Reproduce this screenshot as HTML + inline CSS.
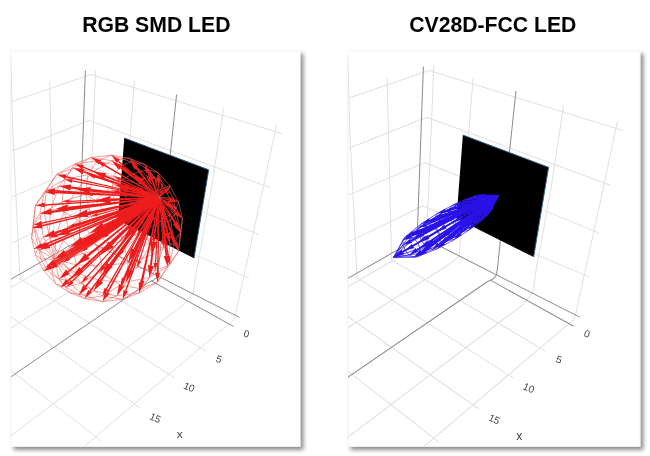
<!DOCTYPE html>
<html><head><meta charset="utf-8"><title>LED radiation patterns</title>
<style>
html,body{margin:0;padding:0;background:#fff;}
body{width:650px;height:456px;overflow:hidden;font-family:"Liberation Sans",Arial,sans-serif;}
svg{display:block;}
</style></head><body>
<svg width="650" height="456" viewBox="0 0 650 456" font-family="Liberation Sans, Arial, sans-serif">
<defs>
<filter id="sh" x="-10%" y="-10%" width="125%" height="125%"><feGaussianBlur in="SourceAlpha" stdDeviation="2.3"/><feOffset dx="2.6" dy="2.6"/><feComponentTransfer><feFuncA type="linear" slope="0.46"/></feComponentTransfer><feMerge><feMergeNode/><feMergeNode in="SourceGraphic"/></feMerge></filter>
<clipPath id="cl"><rect x="11" y="51" width="289" height="395"/></clipPath>
<clipPath id="cr"><rect x="348" y="51" width="292" height="395"/></clipPath>
<g id="grid">
<polyline points="91,74.4 12,101.6" stroke="#e0e0e0" stroke-width="1" fill="none"/>
<polyline points="89,120.4 12,151" stroke="#e0e0e0" stroke-width="1" fill="none"/>
<polyline points="87,165 12,197" stroke="#e0e0e0" stroke-width="1" fill="none"/>
<polyline points="85,208 12,243" stroke="#e0e0e0" stroke-width="1" fill="none"/>
<polyline points="10,288 41,270 88,243" stroke="#e0e0e0" stroke-width="1" fill="none"/>
<polyline points="49.6,82 51,136 54,258 53.9,260.8 205.7,350.9" stroke="#e0e0e0" stroke-width="1" fill="none"/>
<polyline points="10.6,55 13,136 18.6,250 20,280 20.4,278.6 174.4,377.8" stroke="#e0e0e0" stroke-width="1" fill="none"/>
<polyline points="-0.1,309.1 139.7,407.7" stroke="#e0e0e0" stroke-width="1" fill="none"/>
<polyline points="-38.6,332 101,440.9" stroke="#e0e0e0" stroke-width="1" fill="none"/>
<polyline points="91,74.4 282,133.6" stroke="#e0e0e0" stroke-width="1" fill="none"/>
<polyline points="89,120.4 269.6,187.4" stroke="#e0e0e0" stroke-width="1" fill="none"/>
<polyline points="87,165 258.4,234.4" stroke="#e0e0e0" stroke-width="1" fill="none"/>
<polyline points="85,208 249,278" stroke="#e0e0e0" stroke-width="1" fill="none"/>
<polyline points="95.6,70 93,136 88.5,240" stroke="#e0e0e0" stroke-width="1" fill="none"/>
<polyline points="134.4,81.4 130,138 120.7,257.5 108,267.3 -220.9,472.8" stroke="#e0e0e0" stroke-width="1" fill="none"/>
<polyline points="223.6,108.6 211,191 196.4,271 193.3,293.5 182.7,305.5 -155.2,561.7" stroke="#e0e0e0" stroke-width="1" fill="none"/>
<polyline points="276.6,124.6 262.4,191 245,271 235,316 233.8,320 223.5,328.2 -115.4,615.6" stroke="#e0e0e0" stroke-width="1" fill="none"/>
<polyline points="85.4,70.4 83,136 79.3,238" stroke="#8c8c8c" stroke-width="1" fill="none"/>
<polyline points="8,280.9 83,238 239.4,317.4" stroke="#8c8c8c" stroke-width="1" fill="none"/>
<polyline points="176.6,94.6 170.6,151 158.2,271 157,276.5 154.5,279.5 147.6,283.1 -190.1,514.5" stroke="#8c8c8c" stroke-width="1" fill="none"/>
<polyline points="151,280.7 233.4,326.4" stroke="#8c8c8c" stroke-width="1" fill="none"/>
</g>
<g id="quad"><polygon points="124.3,138 208.7,169.8 194,258.2 118,220" fill="#000"/><polyline points="124.3,138 208.7,169.8 194,258.2" fill="none" stroke="#2c5f8f" stroke-width="0.9"/></g>
</defs>
<rect width="650" height="456" fill="#fff"/>
<text x="156.3" y="31.6" font-size="21.2" font-weight="bold" text-anchor="middle" fill="#000">RGB SMD LED</text>
<text x="492.8" y="31.6" font-size="21.2" font-weight="bold" text-anchor="middle" fill="#000">CV28D-FCC LED</text>
<rect x="11" y="51" width="289" height="395.5" fill="#fff" stroke="#f1f1f1" stroke-width="0.8" filter="url(#sh)"/>
<rect x="348" y="51" width="292" height="395.5" fill="#fff" stroke="#f1f1f1" stroke-width="0.8" filter="url(#sh)"/>
<g clip-path="url(#cl)">
<use href="#grid"/><use href="#quad"/>
<path d="M76.4 264.9 L74.4 256 L69.8 247.4 L63.4 240.3 L56.1 235.8 L49.1 234.6 L43.3 236.9 L39.8 242.3 L38.9 250 L41 258.8 L45.5 267.4 L51.9 274.5 L59.2 279 L66.3 280.2 L72 278 L75.6 272.6Z M102 266.1 L98.2 249.5 L89.6 233.3 L77.6 219.9 L63.9 211.5 L50.6 209.2 L39.9 213.5 L33.2 223.6 L31.6 238.1 L35.4 254.7 L43.9 270.9 L56 284.2 L69.7 292.7 L82.9 294.9 L93.7 290.7 L100.4 280.5Z M128.2 262.7 L123.1 240.3 L111.5 218.5 L95.3 200.5 L76.9 189.2 L59 186.1 L44.5 191.9 L35.5 205.5 L33.3 225 L38.4 247.4 L50 269.2 L66.2 287.2 L84.6 298.5 L102.5 301.6 L117 295.8 L126 282.2Z M151.8 255.2 L146 229.8 L132.9 204.9 L114.4 184.5 L93.5 171.6 L73.2 168.1 L56.6 174.6 L46.4 190.2 L44 212.3 L49.8 237.8 L62.9 262.6 L81.3 283 L102.3 296 L122.6 299.4 L139.1 292.9 L149.4 277.4Z M170 244.5 L164.2 219 L151.1 194.2 L132.7 173.8 L111.7 160.8 L91.4 157.4 L74.9 163.9 L64.6 179.4 L62.2 201.6 L68 227 L81.1 251.9 L99.6 272.3 L120.5 285.2 L140.8 288.7 L157.4 282.2 L167.6 266.6Z M180.7 231.8 L175.6 209.4 L164 187.6 L147.8 169.6 L129.4 158.3 L111.5 155.2 L97 161 L88 174.6 L85.8 194.1 L90.9 216.5 L102.5 238.3 L118.7 256.3 L137.1 267.6 L155 270.7 L169.5 264.9 L178.5 251.3Z M182.4 218.7 L178.6 202.1 L170.1 185.9 L158 172.6 L144.3 164.1 L131.1 161.9 L120.3 166.1 L113.6 176.3 L112 190.7 L115.8 207.3 L124.4 223.5 L136.4 236.9 L150.1 245.3 L163.4 247.6 L174.1 243.3 L180.8 233.2Z M175.1 206.8 L173 198 L168.5 189.4 L162.1 182.3 L154.8 177.8 L147.7 176.6 L142 178.8 L138.4 184.2 L137.6 191.9 L139.6 200.8 L144.2 209.4 L150.6 216.5 L157.9 221 L164.9 222.2 L170.7 219.9 L174.2 214.5Z M159.5 197.5 L159.5 197.5 L159.5 197.5 L159.5 197.5 L159.5 197.5 L159.5 197.5 L159.5 197.5 L159.5 197.5 L159.5 197.5 L159.5 197.5 L159.5 197.5 L159.5 197.5 L159.5 197.5 L159.5 197.5 L159.5 197.5 L159.5 197.5Z M54.5 259.3 L76.4 264.9 L102 266.1 L128.2 262.7 L151.8 255.2 L170 244.5 L180.7 231.8 L182.4 218.7 L175.1 206.8 L159.5 197.5 M54.5 259.3 L74.4 256 L98.2 249.5 L123.1 240.3 L146 229.8 L164.2 219 L175.6 209.4 L178.6 202.1 L173 198 L159.5 197.5 M54.5 259.3 L69.8 247.4 L89.6 233.3 L111.5 218.5 L132.9 204.9 L151.1 194.2 L164 187.6 L170.1 185.9 L168.5 189.4 L159.5 197.5 M54.5 259.3 L63.4 240.3 L77.6 219.9 L95.3 200.5 L114.4 184.5 L132.7 173.8 L147.8 169.6 L158 172.6 L162.1 182.3 L159.5 197.5 M54.5 259.3 L56.1 235.8 L63.9 211.5 L76.9 189.2 L93.5 171.6 L111.7 160.8 L129.4 158.3 L144.3 164.1 L154.8 177.8 L159.5 197.5 M54.5 259.3 L49.1 234.6 L50.6 209.2 L59 186.1 L73.2 168.1 L91.4 157.4 L111.5 155.2 L131.1 161.9 L147.7 176.6 L159.5 197.5 M54.5 259.3 L43.3 236.9 L39.9 213.5 L44.5 191.9 L56.6 174.6 L74.9 163.9 L97 161 L120.3 166.1 L142 178.8 L159.5 197.5 M54.5 259.3 L39.8 242.3 L33.2 223.6 L35.5 205.5 L46.4 190.2 L64.6 179.4 L88 174.6 L113.6 176.3 L138.4 184.2 L159.5 197.5 M54.5 259.3 L38.9 250 L31.6 238.1 L33.3 225 L44 212.3 L62.2 201.6 L85.8 194.1 L112 190.7 L137.6 191.9 L159.5 197.5 M54.5 259.3 L41 258.8 L35.4 254.7 L38.4 247.4 L49.8 237.8 L68 227 L90.9 216.5 L115.8 207.3 L139.6 200.8 L159.5 197.5 M54.5 259.3 L45.5 267.4 L43.9 270.9 L50 269.2 L62.9 262.6 L81.1 251.9 L102.5 238.3 L124.4 223.5 L144.2 209.4 L159.5 197.5 M54.5 259.3 L51.9 274.5 L56 284.2 L66.2 287.2 L81.3 283 L99.6 272.3 L118.7 256.3 L136.4 236.9 L150.6 216.5 L159.5 197.5 M54.5 259.3 L59.2 279 L69.7 292.7 L84.6 298.5 L102.3 296 L120.5 285.2 L137.1 267.6 L150.1 245.3 L157.9 221 L159.5 197.5 M54.5 259.3 L66.3 280.2 L82.9 294.9 L102.5 301.6 L122.6 299.4 L140.8 288.7 L155 270.7 L163.4 247.6 L164.9 222.2 L159.5 197.5 M54.5 259.3 L72 278 L93.7 290.7 L117 295.8 L139.1 292.9 L157.4 282.2 L169.5 264.9 L174.1 243.3 L170.7 219.9 L159.5 197.5 M54.5 259.3 L75.6 272.6 L100.4 280.5 L126 282.2 L149.4 277.4 L167.6 266.6 L178.5 251.3 L180.8 233.2 L174.2 214.5 L159.5 197.5" stroke="#f0605c" stroke-width="0.6" fill="none"/>
<path d="M154.74 200.49L107.63 233.94L108.27 234.83L155.13 201.04ZM153.3 201.68L129.49 219.07L130.14 219.96L153.69 202.22ZM153.92 198.69L97.32 214.14L97.61 215.2L154.1 199.34ZM151.96 198.86L122.32 205.31L122.56 206.39L152.1 199.51ZM155.27 204.06L139.42 230.65L140.39 231.21L155.84 204.4ZM155.96 202.01L122.18 250.27L123.11 250.92L156.51 202.39ZM155.51 199.85L86.51 247.44L87.15 248.37L155.9 200.41ZM151.43 196.01L119.02 191.17L118.86 192.3L151.34 196.68ZM154.97 198.61L74.47 224.35L74.83 225.44L155.18 199.25ZM153.62 196.89L92.88 193.86L92.83 195.01L153.59 197.57ZM148.17 203.53L145.77 204.59L146.34 205.59L148.49 204.09ZM145.53 196.79L142.7 196.46L142.66 197.61L145.51 197.44ZM152.64 209.35L151.09 211.66L152.11 212.22L153.22 209.66ZM156.33 200.91L103.59 266.35L104.51 267.08L156.86 201.33ZM157.56 205.61L150.92 238.16L152.07 238.39L158.23 205.74ZM145.2 190.44L142.38 188.83L141.88 189.9L144.92 191.04ZM158.09 213.04L157.61 216.18L158.79 216.26L158.75 213.08ZM154.78 197.36L69.46 200.71L69.51 201.9L154.8 198.04ZM157.39 203.01L138.8 260.51L139.93 260.87L158.04 203.21ZM151.79 193.56L120.49 178.81L119.99 179.89L151.51 194.18ZM156.02 199.44L68.7 257.95L69.38 258.95L156.4 200ZM155.64 198.55L56.56 234.63L56.98 235.78L155.88 199.19ZM153.88 195.35L95.28 176.32L94.91 177.48L153.67 195.99ZM147.28 185.7L144.94 183.15L144.11 184.05L146.82 186.19ZM163.38 213.87L163.97 217.24L165.16 216.94L164.04 213.7ZM159.82 206.09L162.15 240.04L163.39 239.95L160.5 206.04ZM157.3 201.61L123.08 278L124.22 278.5L157.93 201.88ZM156.58 200.18L86.05 276.95L86.97 277.8L157.09 200.64ZM153.01 191.87L126.78 170.51L125.98 171.51L152.58 192.41ZM155.52 197.67L51.64 210.72L51.8 211.98L155.61 198.34ZM151.39 183.51L149.93 180.55L148.84 181.22L150.79 183.87ZM167.45 211.7L168.87 214.7L169.97 214.05L168.05 211.35ZM154.97 196.29L72.47 180.29L72.23 181.55L154.84 196.96ZM158.8 203.33L154.84 262.75L156.13 262.83L159.48 203.38ZM156.73 184.33L156.39 181.6L155.1 181.91L156.03 184.49ZM161.68 205.44L171.03 235.75L172.3 235.35L162.33 205.23ZM169.5 207L171.37 209.1L172.26 208.11L169.98 206.47ZM156.39 199.13L56.46 264.16L57.19 265.28L156.77 199.7ZM154.67 194.28L104.37 164.51L103.7 165.67L154.32 194.87ZM157.26 200.68L105.86 288.52L107.02 289.2L157.85 201.03ZM156.14 198.51L45.8 243.62L46.31 244.86L156.4 199.15ZM154.91 191.19L136.83 167.99L135.76 168.85L154.37 191.63ZM162.22 188.06L163.01 186.2L161.69 185.87L161.52 187.88ZM169.18 200.71L171.08 201.6L171.46 200.28L169.38 200.01ZM158.26 201.85L141.86 280.32L143.2 280.59L158.93 201.98ZM156.78 199.64L71.81 280.82L72.77 281.81L157.25 200.14ZM166.65 193.98L168.22 193.49L167.56 192.28L166.3 193.34ZM155.67 196.91L54.89 190.03L54.8 191.42L155.62 197.59ZM156.06 197.9L41.61 222.49L41.91 223.86L156.21 198.57ZM159.96 202.95L167.55 256.42L168.95 256.21L160.64 202.84ZM162.85 203.78L175.73 226.04L176.96 225.3L163.45 203.42ZM155.53 195.56L83.27 166.48L82.74 167.81L155.28 196.19ZM157.22 191.65L148.7 171.99L147.37 172.6L156.59 191.94ZM157.23 199.99L89.43 290.84L90.62 291.72L157.78 200.4ZM155.89 193.86L118.79 160.65L117.81 161.76L155.43 194.38ZM157.92 200.86L125.01 290.61L126.41 291.11L158.57 201.09ZM163.18 201.38L175.08 212.96L176.11 211.84L163.66 200.87ZM156.7 198.87L51.39 265.26L52.21 266.54L157.07 199.45ZM156.17 197.37L44.72 204.16L44.82 205.68L156.21 198.06ZM159.6 193.22L159.34 181.96L157.81 182.05L158.89 193.26ZM156.52 198.35L41.99 244.78L42.57 246.21L156.78 198.99ZM159.05 201.59L156.84 272.67L158.39 272.7L159.74 201.61ZM156.07 196.39L66.09 175.95L65.76 177.47L155.92 197.06ZM162.69 198.63L169.07 200.62L169.44 199.09L162.85 197.94ZM160.7 201.92L174.58 242.43L176.06 241.9L161.35 201.69ZM161.57 195.76L165.39 192.21L164.22 191.14L161.04 195.28ZM157.03 199.29L67.11 280.54L68.18 281.71L157.49 199.8ZM156.38 195.26L100.36 161.72L99.53 163.12L156.03 195.86ZM157.68 200.11L106.58 292.44L108.01 293.22L158.28 200.44ZM157.36 194.15L136.11 165.71L134.81 166.7L156.81 194.57ZM156.53 197.86L41.7 224.89L42.09 226.5L156.69 198.53ZM158.47 200.68L140.48 282.57L142.14 282.92L159.14 200.82ZM156.45 197.01L54.93 191.52L54.84 193.22L156.42 197.69ZM160.9 200.43L174.37 223.23L175.84 222.33L161.49 200.06ZM157.41 199.49L84.82 286.14L86.16 287.25L157.93 199.93ZM159.55 200.89L165.49 256.02L167.24 255.82L160.24 200.81ZM156.97 198.65L54.27 261.04L55.2 262.54L157.33 199.23ZM158.89 195.14L152.82 179.3L151.18 179.99L158.24 195.41ZM156.67 196.17L83.78 170.79L83.21 172.48L156.45 196.82ZM156.88 198.27L48.77 244.73L49.49 246.39L157.15 198.9ZM160.58 198.73L166.15 203.58L167.24 202.11L160.99 198.17ZM157.4 195.45L121.2 166.98L120.08 168.44L156.97 196ZM158.05 199.99L120.67 285.08L122.37 285.81L158.68 200.26ZM160.18 196.85L162.37 193.45L160.69 192.68L159.54 196.56ZM156.74 197.52L51.01 211.06L51.25 212.9L156.84 198.2ZM157.22 198.91L67.45 271.14L68.62 272.58L157.65 199.45ZM156.86 196.85L70.93 186.49L70.72 188.42L156.78 197.54ZM158.81 200.18L149.93 265.37L151.86 265.62L159.5 200.26ZM159.67 199.85L166.42 232.86L168.35 232.43L160.35 199.7ZM157.73 199.41L99.91 280.16L101.53 281.31L158.29 199.81ZM156.99 197.99L54.56 232.05L55.2 233.93L157.21 198.64ZM158.43 196.09L142.71 181.3L141.36 182.83L157.97 196.61ZM157.38 196.29L105.53 175.21L104.78 177.12L157.12 196.94ZM157.46 198.91L80.61 268.65L82.01 270.17L157.93 199.41ZM157.23 198.44L64.89 251.98L65.94 253.77L157.57 199.03ZM158.29 199.63L129.83 269.73L131.8 270.51L158.93 199.88ZM159.39 198.62L160.49 206.96L162.57 206.51L160.07 198.47ZM157.09 197.42L67.78 206.72L68.01 208.84L157.17 198.11ZM159.22 197.02L156.29 195.08L155.51 197.09L158.97 197.66ZM157.33 196.93L90.5 189.42L90.28 191.63L157.26 197.62ZM158.89 199.42L152.5 241.55L154.7 241.84L159.58 199.51ZM157.25 197.97L68.55 230.04L69.33 232.13L157.49 198.61ZM157.91 199.08L108.91 264.15L110.74 265.51L158.46 199.48ZM157.57 198.62L86.6 255.12L88.04 256.91L158 199.16ZM158.06 196.72L128.33 187.31L127.69 189.53L157.87 197.39ZM157.48 198.23L81.97 239.3L83.12 241.38L157.82 198.83ZM158.35 199.09L133.44 248.95L135.6 249.98L158.98 199.39ZM158.72 198.47L150.61 215.61L152.84 216.55L159.36 198.73ZM157.47 197.59L87.38 212.1L87.9 214.47L157.62 198.27ZM158.5 197.42L147.03 199.71L147.69 202.07L158.69 198.09ZM157.77 197.24L110.43 198.58L110.54 201.05L157.8 197.93ZM157.91 198.56L110.31 243.35L112.07 245.18L158.39 199.05ZM158.26 198.42L132.38 227.37L134.36 229.05L158.79 198.87ZM157.76 198L103.21 224.84L104.4 227.15L158.07 198.62ZM158.08 197.74L125.76 210.83L126.82 213.24L158.36 198.38Z" fill="#ee1c1c"/>
<path d="M102.5 238.3L107 233L108.9 235.8ZM124.4 223.5L128.8 218.1L130.8 220.9ZM90.9 216.5L97 213L97.9 216.3ZM115.8 207.3L122.1 204.2L122.8 207.5ZM136.4 236.9L138.4 230L141.4 231.8ZM118.7 256.3L121.2 249.6L124.1 251.6ZM81.1 251.9L85.8 246.5L87.8 249.3ZM112 190.7L119.2 190L118.7 193.5ZM68 227L74.1 223.2L75.2 226.6ZM85.8 194.1L92.9 192.7L92.8 196.2ZM142.7 207L145.6 204.2L146.5 206ZM138.4 196.9L142.7 196L142.6 198.1ZM149.6 215.6L150.7 211.4L152.5 212.4ZM99.6 272.3L102.6 265.6L105.5 267.8ZM150.1 245.3L149.7 237.9L153.3 238.6ZM137.7 187.3L142.7 188.3L141.6 190.5ZM157.9 221L157 216.1L159.4 216.3ZM62.2 201.6L69.4 199.5L69.6 203.1ZM137.1 267.6L137.6 260.1L141.1 261.2ZM113.6 176.3L121 177.7L119.5 181ZM62.9 262.6L68 256.9L70.1 260ZM49.8 237.8L56.1 233.4L57.4 237ZM88 174.6L95.7 175.1L94.5 178.7ZM140.7 180.1L145.4 182.6L143.6 184.6ZM165.8 222.1L163.3 217.4L165.8 216.8ZM163.4 247.6L160.9 240.1L164.7 239.8ZM120.5 285.2L121.9 277.5L125.4 279ZM81.3 283L85.1 276.1L87.9 278.7ZM120.3 166.1L127.6 169.5L125.1 172.6ZM44 212.3L51.5 209.4L52 213.3ZM146.8 176.7L150.4 180.2L148.3 181.5ZM171.9 218.6L168.3 215L170.5 213.7ZM64.6 179.4L72.7 179L72 182.9ZM155 270.7L153.5 262.7L157.5 262.9ZM154.8 177.8L156.8 181.5L154.7 182ZM174.1 243.3L169.7 236.2L173.6 234.9ZM174.9 211.4L171.1 209.4L172.5 207.8ZM50 269.2L55.7 263L58 266.4ZM97 161L105.1 163.3L103 166.9ZM102.3 296L104.6 287.8L108.2 289.9ZM38.4 247.4L45.3 242.3L46.8 246.2ZM131.1 161.9L138 167.1L134.6 169.7ZM163.1 183.1L163.1 186.2L161.6 185.9ZM174.2 201.8L171 201.7L171.5 200.2ZM140.8 288.7L140.4 280L144.6 280.9ZM66.2 287.2L70.8 279.8L73.8 282.9ZM170 191.7L168.2 193.4L167.6 192.3ZM46.4 190.2L55 188.6L54.7 192.9ZM33.3 225L41.3 221.1L42.2 225.3ZM169.5 264.9L166.1 256.6L170.4 256ZM180.8 233.2L174.5 226.8L178.2 224.5ZM74.9 163.9L83.8 165.1L82.2 169.2ZM144.3 164.1L150.1 171.4L146 173.2ZM84.6 298.5L88.2 289.9L91.9 292.6ZM111.5 155.2L119.8 159.5L116.8 162.9ZM122.6 299.4L123.5 290.1L127.9 291.6ZM182.4 218.7L174 214.1L177.2 210.7ZM43.9 270.9L50.5 263.9L53.1 267.9ZM35.5 205.5L44.6 202.6L44.9 207.3ZM158 172.6L161 181.9L156.2 182.1ZM33.5 249.1L41.4 243.3L43.2 247.7ZM157.4 282.2L155.2 272.6L160 272.7ZM56.6 174.6L66.4 174.4L65.4 179.1ZM178.6 202.1L168.7 202.2L169.8 197.5ZM178.5 251.3L173 243L177.6 241.4ZM170.1 185.9L166.3 193L163.3 190.3ZM60.5 287.7L66 279.3L69.3 282.9ZM91.4 157.4L101.2 160.3L98.7 164.6ZM102.5 301.6L105.1 291.6L109.5 294ZM129.4 158.3L137.5 164.7L133.4 167.7ZM32 228.1L41.3 223.2L42.5 228.2ZM139.1 292.9L138.7 282.2L143.9 283.3ZM44.5 191.9L55 189.7L54.8 195ZM180.7 231.8L172.8 224.2L177.4 221.4ZM78.7 294.9L83.4 285L87.6 288.4ZM167.6 266.6L163.7 256.2L169.1 255.6ZM45.5 267.4L53.3 259.5L56.2 264.1ZM147.8 169.6L154.5 178.6L149.5 180.7ZM73.2 168.1L84.4 169L82.6 174.2ZM38.9 250L48 243L50.3 248.1ZM175.6 209.4L165 205.1L168.4 200.6ZM111.7 160.8L122.4 165.4L118.9 170ZM117 295.8L118.9 284.3L124.1 286.6ZM164 187.6L162.9 193.7L160.1 192.4ZM39.9 213.5L50.7 209.1L51.5 214.8ZM59.2 279L66.2 269.6L69.8 274.1ZM59 186.1L71.2 184.5L70.5 190.4ZM149.4 277.4L147.9 265.1L153.9 265.9ZM170 244.5L164.4 233.3L170.4 232ZM93.7 290.7L98.2 279L103.2 282.5ZM43.3 236.9L53.9 230.1L55.9 235.9ZM132.7 173.8L144.1 179.7L139.9 184.4ZM93.5 171.6L106.3 173.2L104 179.1ZM72 278L79.1 267.1L83.5 271.8ZM54.5 259.3L63.8 250.1L67 255.6ZM126 282.2L127.8 268.9L133.9 271.3ZM164.2 219L158.4 207.4L164.6 206.1ZM54.9 209.2L67.5 204.5L68.3 211.1ZM151.1 194.2L156.4 194.9L155.4 197.3ZM76.9 189.2L90.7 187.1L90 193.9ZM151.8 255.2L150.2 241.2L157 242.2ZM56.1 235.8L67.7 227.8L70.1 234.3ZM101.5 276.1L107 262.7L112.7 266.9ZM76.4 264.9L85.1 253.3L89.6 258.8ZM114.4 184.5L129 185L127 191.9ZM69.8 247.4L80.8 237.1L84.3 243.6ZM128.2 262.7L131.2 247.9L137.9 251.1ZM146 229.8L148.3 214.6L155.2 217.5ZM73.1 216.5L86.8 209.6L88.4 217ZM132.9 204.9L146.3 197.2L148.4 204.5ZM95.3 200.5L110.3 196L110.7 203.7ZM100 255.1L108.5 241.4L113.9 247.1ZM123.1 240.3L130.3 225.6L136.4 230.8ZM89.6 233.3L102 222.4L105.6 229.6ZM111.5 218.5L124.7 208.3L127.9 215.8Z" fill="#ee1c1c"/>
<text transform="translate(246.6,333.6) rotate(18)" y="3.6" font-size="10" text-anchor="middle" fill="#444">0</text>
<text transform="translate(219,359) rotate(18)" y="3.6" font-size="10" text-anchor="middle" fill="#444">5</text>
<text transform="translate(189.2,387) rotate(22)" y="3.6" font-size="10" text-anchor="middle" fill="#444">10</text>
<text transform="translate(155.3,417.8) rotate(25)" y="3.6" font-size="10" text-anchor="middle" fill="#444">15</text>
<text x="179.8" y="438" font-size="11.8" text-anchor="middle" fill="#444">x</text>
</g>
<g clip-path="url(#cr)">
<g transform="translate(423,66) scale(1.015) translate(-85,-70)">
<use href="#grid"/><use href="#quad"/>
<path d="M82 249.7 L79.8 244.2 L76 239.8 L71.5 237.6 L67.6 238.2 L65.3 241.4 L65.3 246.4 L67.5 251.8 L71.4 256.2 L75.9 258.4 L79.8 257.8 L82 254.6Z M101.9 239.7 L99.1 232.8 L94.3 227.3 L88.6 224.5 L83.7 225.2 L80.9 229.2 L80.8 235.5 L83.6 242.3 L88.5 247.9 L94.2 250.7 L99.1 250 L101.9 245.9Z M118.9 230.1 L116 222.9 L110.9 217.1 L104.9 214.1 L99.8 214.9 L96.7 219.1 L96.7 225.7 L99.7 232.9 L104.8 238.8 L110.7 241.7 L115.9 241 L118.9 236.7Z M132.6 221.7 L129.8 214.8 L124.9 209.2 L119.2 206.3 L114.2 207.1 L111.3 211.1 L111.3 217.5 L114.1 224.4 L119.1 230 L124.8 232.8 L129.7 232.1 L132.6 228Z M143 214.8 L140.4 208.6 L136 203.5 L130.8 200.9 L126.3 201.6 L123.7 205.3 L123.7 211 L126.3 217.2 L130.7 222.3 L135.9 224.9 L140.3 224.2 L143 220.5Z M150.2 209.5 L148 204.1 L144.1 199.7 L139.7 197.5 L135.8 198.1 L133.6 201.3 L133.6 206.2 L135.8 211.6 L139.6 216 L144.1 218.2 L147.9 217.6 L150.2 214.4Z M56.1 258.4 L82 249.7 L101.9 239.7 L118.9 230.1 L132.6 221.7 L143 214.8 L150.2 209.5 L159.5 197.5 M56.1 258.4 L79.8 244.2 L99.1 232.8 L116 222.9 L129.8 214.8 L140.4 208.6 L148 204.1 L159.5 197.5 M56.1 258.4 L76 239.8 L94.3 227.3 L110.9 217.1 L124.9 209.2 L136 203.5 L144.1 199.7 L159.5 197.5 M56.1 258.4 L71.5 237.6 L88.6 224.5 L104.9 214.1 L119.2 206.3 L130.8 200.9 L139.7 197.5 L159.5 197.5 M56.1 258.4 L67.6 238.2 L83.7 225.2 L99.8 214.9 L114.2 207.1 L126.3 201.6 L135.8 198.1 L159.5 197.5 M56.1 258.4 L65.3 241.4 L80.9 229.2 L96.7 219.1 L111.3 211.1 L123.7 205.3 L133.6 201.3 L159.5 197.5 M56.1 258.4 L65.3 246.4 L80.8 235.5 L96.7 225.7 L111.3 217.5 L123.7 211 L133.6 206.2 L159.5 197.5 M56.1 258.4 L67.5 251.8 L83.6 242.3 L99.7 232.9 L114.1 224.4 L126.3 217.2 L135.8 211.6 L159.5 197.5 M56.1 258.4 L71.4 256.2 L88.5 247.9 L104.8 238.8 L119.1 230 L130.7 222.3 L139.6 216 L159.5 197.5 M56.1 258.4 L75.9 258.4 L94.2 250.7 L110.7 241.7 L124.8 232.8 L135.9 224.9 L144.1 218.2 L159.5 197.5 M56.1 258.4 L79.8 257.8 L99.1 250 L115.9 241 L129.7 232.1 L140.3 224.2 L147.9 217.6 L159.5 197.5 M56.1 258.4 L82 254.6 L101.9 245.9 L118.9 236.7 L132.6 228 L143 220.5 L150.2 214.4 L159.5 197.5" stroke="#3220ee" stroke-width="0.75" fill="none"/>
<path d="M157.19 198.44L141.11 207.75L141.72 208.77L157.57 199.09ZM157.06 197.92L139.63 203.56L140.01 204.69L157.3 198.64ZM157.46 198.88L144.05 211.05L144.86 211.93L157.98 199.43ZM157.13 197.46L140.13 199.72L140.31 200.92L157.24 198.21ZM157.82 199.12L147.59 212.44L148.57 213.17L158.42 199.58ZM157.31 198.36L131.75 213.27L132.37 214.32L157.69 199.01ZM157.21 197.96L129.84 208.03L130.27 209.18L157.48 198.67ZM157.52 198.71L135.46 217.4L136.26 218.34L158.01 199.28ZM157.37 197.18L142.67 197.31L142.7 198.56L157.39 197.93ZM158.14 199.11L150.81 211.36L151.89 211.98L158.79 199.49ZM157.27 197.6L130.35 203.19L130.62 204.42L157.43 198.34ZM157.79 198.9L139.93 219.2L140.88 220.02L158.36 199.39ZM157.73 197.12L146.7 196.9L146.71 198.17L157.73 197.88ZM158.33 198.83L153 207.98L154.12 208.6L159 199.2ZM157.4 198.3L119.85 220.26L120.5 221.36L157.79 198.95ZM157.33 197.99L117.59 214.18L118.08 215.37L157.62 198.69ZM157.57 198.57L124.18 225.07L124.99 226.07L158.04 199.16ZM157.46 197.37L133.3 200.08L133.45 201.36L157.55 198.12ZM158.04 198.89L143.97 218.04L145.02 218.79L158.66 199.33ZM158.07 197.32L151.11 198.08L151.3 199.35L158.18 198.08ZM158.37 198.34L154.06 203.46L155.08 204.26L158.97 198.81ZM158.28 197.76L153.89 199.98L154.54 201.11L158.66 198.42ZM157.37 197.71L118.1 208.54L118.46 209.8L157.58 198.44ZM157.77 198.72L129.39 227.21L130.33 228.13L158.31 199.25ZM157.73 197.33L137.97 199.41L138.13 200.72L157.82 198.08ZM158.2 198.66L146.68 214.19L147.76 214.97L158.81 199.11ZM157.99 197.49L143.02 200.99L143.35 202.3L158.18 198.23ZM157.52 197.53L121.36 204.86L121.64 206.18L157.68 198.27ZM157.48 198.25L105.73 228.54L106.42 229.7L157.87 198.91ZM158.23 198.28L147.64 208.93L148.62 209.86L158.78 198.8ZM157.96 198.71L134.1 226L135.13 226.88L158.54 199.2ZM157.43 198.01L103.29 222.02L103.85 223.26L157.74 198.71ZM158.16 197.84L146.58 204.2L147.26 205.38L158.54 198.49ZM157.6 198.46L110.4 233.69L111.22 234.78L158.06 199.06ZM157.46 197.8L103.79 215.95L104.24 217.27L157.71 198.52ZM157.73 197.5L126.53 204.01L126.83 205.37L157.89 198.24ZM157.76 198.57L116 236.01L116.94 237.04L158.27 199.13ZM158.09 198.53L137.2 221.78L138.25 222.7L158.66 199.03ZM157.93 197.63L132.13 205.97L132.58 207.32L158.17 198.35ZM158.12 198.23L138.04 215.87L139 216.93L158.63 198.8ZM157.57 197.67L107.18 211.96L107.58 213.34L157.78 198.39ZM158.06 197.9L136.34 210.15L137.06 211.4L158.45 198.55ZM157.9 198.56L121.06 234.8L122.08 235.83L158.44 199.09ZM157.55 198.21L90.21 237.61L90.95 238.87L157.94 198.86ZM157.52 198.04L87.84 231.31L88.48 232.64L157.85 198.72ZM157.64 198.36L94.73 242.57L95.58 243.78L158.08 198.97ZM157.73 197.64L112.58 211L113.01 212.43L157.95 198.37ZM158 198.42L124.35 230.42L125.39 231.49L158.53 198.97ZM157.54 197.88L88.3 225.43L88.87 226.83L157.82 198.59ZM157.75 198.44L100.16 244.82L101.12 246L158.23 199.02ZM157.88 197.74L118.43 213.18L119.01 214.61L158.16 198.45ZM158.03 198.2L125.08 224.18L126.05 225.38L158.5 198.79ZM157.98 197.95L123 217.92L123.79 219.26L158.37 198.6ZM157.62 197.78L91.54 221.52L92.08 222.98L157.88 198.5ZM157.85 198.43L105.09 243.7L106.12 244.88L158.35 199ZM157.73 197.77L96.68 220.55L97.26 222.07L158 198.48ZM157.62 198.17L74.82 246.53L75.65 247.93L158 198.82ZM157.92 198.33L108.26 239.53L109.3 240.78L158.41 198.91ZM157.6 198.06L72.93 241.49L73.69 242.94L157.95 198.73ZM157.67 198.26L78.46 250.5L79.36 251.86L158.09 198.89ZM157.83 197.84L102.28 222.71L102.98 224.22L158.15 198.53ZM157.61 197.96L73.32 236.75L74.03 238.26L157.93 198.65ZM157.94 198.17L108.88 233.54L109.87 234.89L158.39 198.78ZM157.74 198.31L82.84 252.28L83.83 253.64L158.19 198.92ZM157.91 197.99L106.74 227.41L107.59 228.87L158.3 198.64ZM157.66 197.9L75.92 233.57L76.61 235.14L157.97 198.59ZM157.81 198.3L86.84 251.39L87.88 252.77L158.27 198.91ZM157.73 197.89L80.02 232.76L80.76 234.38L158.04 198.58ZM157.85 198.24L89.4 248.08L90.46 249.51L158.3 198.85ZM157.8 197.94L84.5 234.5L85.32 236.12L158.14 198.62ZM157.87 198.14L89.88 243.28L90.89 244.8L158.29 198.77ZM157.85 198.03L88.1 238.32L89.03 239.91L158.23 198.69ZM157.73 198.1L64.69 252.19L65.66 253.84L158.12 198.75Z" fill="#2812e8"/>
<path d="M135.8 211.6L140.6 206.8L142.3 209.7ZM133.6 206.2L139.3 202.6L140.3 205.7ZM139.6 216L143.3 210.3L145.6 212.7ZM133.6 201.3L140 198.7L140.5 202ZM144.1 218.2L146.7 211.8L149.4 213.8ZM126.3 217.2L131.2 212.3L132.9 215.2ZM123.7 211L129.5 207L130.7 210.2ZM130.7 222.3L134.8 216.6L137 219.2ZM135.8 198.1L142.6 196.2L142.7 199.6ZM147.9 217.6L149.9 210.8L152.8 212.5ZM123.7 205.3L130.1 202.1L130.9 205.5ZM135.9 224.9L139.1 218.5L141.7 220.7ZM139.7 197.5L146.7 195.8L146.7 199.3ZM150.2 214.4L152 207.4L155.1 209.1ZM114.1 224.4L119.3 219.3L121.1 222.3ZM111.3 217.5L117.2 213.1L118.5 216.4ZM119.1 230L123.5 224.2L125.7 227ZM126.3 201.6L133.2 199L133.6 202.5ZM140.3 224.2L143.1 217.4L145.9 219.5ZM144.1 199.7L150.9 197L151.5 200.5ZM150.2 209.5L153.2 202.8L156 205ZM148 204.1L153.3 199L155.1 202.1ZM111.3 211.1L117.8 207.4L118.8 210.9ZM124.8 232.8L128.6 226.4L131.2 228.9ZM130.8 200.9L137.8 198.3L138.3 201.9ZM143 220.5L145.7 213.5L148.7 215.6ZM136 203.5L142.7 199.8L143.6 203.5ZM114.2 207.1L121.1 203.7L121.9 207.3ZM99.7 232.9L105.1 227.5L107 230.7ZM143 214.8L146.8 208.1L149.5 210.7ZM129.7 232.1L133.2 225.2L136 227.7ZM96.7 225.7L102.8 220.9L104.3 224.4ZM140.4 208.6L146 203.2L147.9 206.4ZM104.8 238.8L109.7 232.7L111.9 235.7ZM96.7 219.1L103.4 214.8L104.6 218.4ZM119.2 206.3L126.3 202.8L127.1 206.6ZM110.7 241.7L115.2 235.1L117.8 238ZM132.6 228L136.3 221L139.2 223.5ZM124.9 209.2L131.7 204.8L133 208.5ZM132.6 221.7L137.2 214.9L139.8 217.9ZM99.8 214.9L106.8 210.7L107.9 214.6ZM129.8 214.8L135.7 209.1L137.7 212.5ZM115.9 241L120.2 233.9L123 236.7ZM83.6 242.3L89.6 236.5L91.6 240ZM80.8 235.5L87.3 230.1L89 233.8ZM88.5 247.9L94 241.5L96.3 244.8ZM104.9 214.1L112.2 209.7L113.4 213.7ZM118.9 236.7L123.4 229.5L126.3 232.4ZM80.9 229.2L87.8 224.2L89.4 228.1ZM94.2 250.7L99.3 243.8L102 247ZM110.9 217.1L117.9 211.9L119.5 215.9ZM118.9 230.1L124.2 223.1L126.9 226.4ZM116 222.9L122.3 216.7L124.5 220.4ZM83.7 225.2L91.1 220.2L92.5 224.3ZM99.1 250L104.2 242.7L107 245.9ZM88.6 224.5L96.2 219.2L97.8 223.4ZM67.5 251.8L74.1 245.3L76.4 249.2ZM101.9 245.9L107.3 238.4L110.2 241.9ZM65.3 246.4L72.3 240.2L74.3 244.2ZM71.4 256.2L77.7 249.3L80.2 253.1ZM94.3 227.3L101.7 221.4L103.6 225.6ZM65.3 241.4L72.7 235.4L74.6 239.6ZM101.9 239.7L108 232.4L110.7 236.1ZM75.9 258.4L82 251.1L84.7 254.8ZM99.1 232.8L106 226.1L108.3 230.1ZM67.6 238.2L75.3 232.2L77.2 236.5ZM79.8 257.8L85.9 250.2L88.8 254ZM71.5 237.6L79.4 231.3L81.4 235.8ZM82 254.6L88.5 246.8L91.4 250.8ZM76 239.8L83.8 233.1L86 237.5ZM82 249.7L89 242L91.8 246.1ZM79.8 244.2L87.3 236.9L89.8 241.3ZM56.1 258.4L63.8 250.7L66.5 255.3Z" fill="#2812e8"/>
<text transform="translate(246.6,333.6) rotate(18)" y="3.6" font-size="10" text-anchor="middle" fill="#444">0</text>
<text transform="translate(219,359) rotate(18)" y="3.6" font-size="10" text-anchor="middle" fill="#444">5</text>
<text transform="translate(189.2,387) rotate(22)" y="3.6" font-size="10" text-anchor="middle" fill="#444">10</text>
<text transform="translate(155.3,417.8) rotate(25)" y="3.6" font-size="10" text-anchor="middle" fill="#444">15</text>
<text x="179.8" y="438" font-size="11.8" text-anchor="middle" fill="#444">x</text>
</g>
</g>
</svg>
</body></html>
